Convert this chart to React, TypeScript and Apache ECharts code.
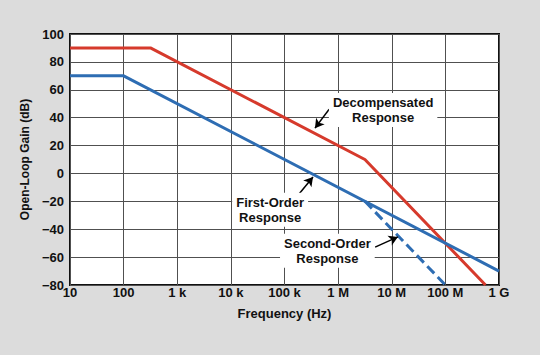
import React, { useEffect, useRef } from "react";
import * as echarts from "echarts";

const xTickValues = [10, 100, 1e3, 1e4, 1e5, 1e6, 1e7, 1e8, 1e9];
const xTickLabels = ["10", "100", "1 k", "10 k", "100 k", "1 M", "10 M", "100 M", "1 G"];

const decompensated: [number, number][] = [[10, 90], [316, 90], [3.16e6, 10], [5.6e8, -80]];
const firstOrder: [number, number][] = [[10, 70], [100, 70], [1e9, -70]];
const secondOrder: [number, number][] = [[3.16e6, -20], [1e8, -80]];

const annotations = [
  { text: "Decompensated\nResponse", at: [6.9e6, 45.5], from: [6.8e5, 46], to: [3.7e5, 32.5] },
  { text: "First-Order\nResponse", at: [5.4e4, -26], from: [1.8e5, -15.5], to: [3.4e5, -2.5] },
  { text: "Second-Order\nResponse", at: [6.3e5, -55.5], from: [4.9e6, -52.8], to: [1.3e7, -45.5] },
];

const FONT = "'Liberation Sans', Arial, Helvetica, sans-serif";

export default function App() {
  const ref = useRef<HTMLDivElement>(null);
  useEffect(() => {
    if (!ref.current) return;
    const chart = echarts.init(ref.current, undefined, { renderer: "svg" });
    const fmtX = (v: number) => {
      const i = xTickValues.findIndex((t) => Math.abs(Math.log10(t) - Math.log10(v)) < 1e-6);
      return i >= 0 ? xTickLabels[i] : "";
    };
    chart.setOption({
      animation: false,
      backgroundColor: "#dcdcdc",
      grid: {
        left: 70, right: 41, top: 34, bottom: 70,
        show: true, backgroundColor: "#ffffff", borderColor: "#111", borderWidth: 2,
      },
      xAxis: {
        type: "log", logBase: 10, min: 10, max: 1e9,
        name: "Frequency (Hz)", nameLocation: "middle", nameGap: 22,
        nameTextStyle: { fontFamily: FONT, fontWeight: "bold", fontSize: 13, color: "#111" },
        axisLine: { show: false }, axisTick: { show: false },
        axisLabel: { formatter: fmtX, fontFamily: FONT, fontWeight: "bold", fontSize: 13, color: "#111", margin: 1 },
        splitLine: { show: true, lineStyle: { color: "#505050", width: 1 } },
        minorSplitLine: { show: false },
      },
      yAxis: {
        type: "value", min: -80, max: 100, interval: 20,
        name: "Open-Loop Gain (dB)", nameLocation: "middle", nameGap: 32,
        nameTextStyle: { fontFamily: FONT, fontWeight: "bold", fontSize: 12, color: "#111" },
        axisLine: { show: false }, axisTick: { show: false },
        axisLabel: {
          formatter: (v: number) => (v < 0 ? "\u2212" + Math.abs(v) : String(v)),
          fontFamily: FONT, fontWeight: "bold", fontSize: 13, color: "#111", margin: 6,
        },
        splitLine: { show: true, lineStyle: { color: "#505050", width: 1 } },
      },
      series: [
        {
          type: "line", data: decompensated, symbol: "none",
          lineStyle: { color: "#d63a2c", width: 3 }, z: 3,
        },
        {
          type: "line", data: firstOrder, symbol: "none",
          lineStyle: { color: "#2e6db3", width: 3 }, z: 4,
        },
        {
          type: "line", data: secondOrder, symbol: "none",
          lineStyle: { color: "#2e6db3", width: 3, type: [10, 5] }, z: 4,
          markLine: {
            silent: true, symbol: ["none", "arrow"], symbolSize: [8, 9],
            label: { show: false },
            lineStyle: { color: "#000", width: 1.5, type: "solid" },
            data: annotations.map((a) => [{ coord: a.from }, { coord: a.to }]),
          },
        },
      ],
    });
    chart.setOption({
      graphic: annotations.map((a) => {
        const p = chart.convertToPixel({ gridIndex: 0 }, a.at) as number[];
        return {
          type: "text", x: p[0], y: p[1], z: 10,
          style: {
            text: a.text, fontFamily: FONT, fontWeight: "bold", fontSize: 13, fill: "#111",
            align: "center", verticalAlign: "middle", lineHeight: 15,
            backgroundColor: "#fff", padding: [2, 4],
          },
        };
      }),
    });
    return () => chart.dispose();
  }, []);
  return <div ref={ref} style={{ position: "absolute", left: 0, top: 0, width: 540, height: 355 }} />;
}
